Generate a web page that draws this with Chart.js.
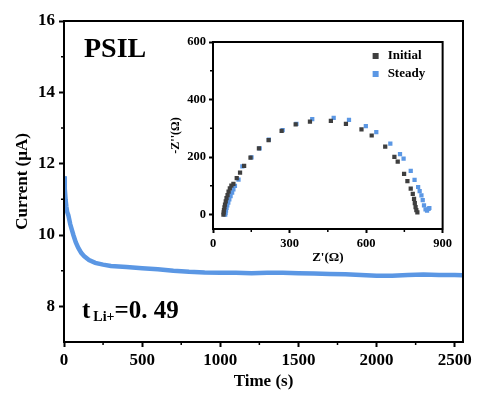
<!DOCTYPE html>
<html>
<head>
<meta charset="utf-8">
<script src="https://cdn.jsdelivr.net/npm/chart.js@4/dist/chart.umd.min.js"></script>
<style>
  html, body { margin: 0; padding: 0; background: #fff; }
  #wrap { position: relative; width: 478px; height: 394px; overflow: hidden; }
  #main { position: absolute; left: 0; top: 0; }
  #inset { position: absolute; left: 160px; top: 30px; }
  .note { position: absolute; font-family: "Liberation Serif", "Times New Roman", serif; font-weight: bold; color: #000; white-space: nowrap; line-height: 1; }
  #tag { left: 84px; top: 34px; font-size: 28px; }
  #tli { left: 82px; top: 297px; font-size: 25px; }
  #tli sub { font-size: 14px; vertical-align: -3px; margin-left: 3px; }
</style>
</head>
<body>
<div id="wrap">
  <canvas id="main" width="478" height="394"></canvas>
  <canvas id="inset" width="295" height="235"></canvas>
  <div class="note" id="tag">PSIL</div>
  <div class="note" id="tli">t<sub>Li+</sub>=0. 49</div>
</div>
<script>
// Chronoamperometry: time (s) and current (µA)
const timeS = [0, 5, 10, 15, 20, 28, 40, 50, 60, 75, 90, 110, 130, 160, 200, 250, 300, 400, 500,
  600, 700, 800, 900, 1000, 1100, 1200, 1300, 1400, 1500, 1600, 1700, 1800, 1900, 2000,
  2100, 2200, 2300, 2400, 2500, 2550];
const currentUA = [11.65, 11.3, 11.0, 10.8, 10.65, 10.55, 10.3, 10.15, 10.0, 9.8, 9.65, 9.5, 9.4, 9.3, 9.22, 9.17, 9.13, 9.1, 9.07,
  9.04, 9.0, 8.97, 8.95, 8.94, 8.94, 8.93, 8.94, 8.94, 8.93, 8.92, 8.91, 8.9, 8.88, 8.86,
  8.86, 8.88, 8.89, 8.88, 8.88, 8.87];

// Impedance spectra: Z' and -Z'' (Ω)
const initialZre = [41, 42, 43, 45, 47, 50, 53, 57, 61, 66, 72, 80, 93, 106, 122, 147, 180, 218, 269, 324, 380, 462, 521,
  582, 622, 675, 711, 724, 749, 762, 775, 783, 788, 791, 794, 797, 801];
const initialZim = [0, 8, 16, 25, 35, 46, 57, 68, 80, 91, 101, 107, 127, 146, 169, 198, 230, 259, 291, 314, 323, 326, 315,
  296, 275, 236, 201, 184, 142, 116, 90, 72, 55, 40, 26, 16, 8];
const steadyZre = [48, 49, 51, 53, 56, 60, 64, 69, 75, 80, 86, 100, 115, 151, 183, 219, 273, 327, 389, 473, 533,
  599, 640, 695, 733, 747, 775, 790, 804, 810, 817, 822, 827, 833, 839, 845, 848];
const steadyZim = [0, 6, 14, 23, 32, 42, 53, 64, 76, 88, 100, 122, 168, 199, 230, 261, 294, 315, 332, 336, 329,
  308, 287, 247, 210, 195, 152, 121, 96, 82, 67, 50, 32, 18, 14, 20, 23];

const mainTicksX = [0, 500, 1000, 1500, 2000, 2500];
const mainTicksY = [8, 10, 12, 14, 16];
const insetTicksX = [0, 300, 600, 900];
const insetTicksY = [0, 200, 400, 600];

const BLUE = '#5b97e4';
const GRAY = '#3f3f3f';
const SERIF = '"Liberation Serif", "Times New Roman", serif';

// Frame plus short minor ticks halfway between the labelled ticks
function framePlugin(minorX, minorY, minorLen) {
  return {
    id: 'frame',
    afterDraw(chart) {
      const { ctx, chartArea: a, scales } = chart;
      ctx.save();
      ctx.strokeStyle = '#000';
      ctx.lineWidth = 2;
      ctx.strokeRect(a.left, a.top, a.right - a.left, a.bottom - a.top);
      ctx.lineWidth = 1.5;
      ctx.beginPath();
      minorX.forEach(v => {
        const x = scales.x.getPixelForValue(v);
        ctx.moveTo(x, a.bottom); ctx.lineTo(x, a.bottom + minorLen);
      });
      minorY.forEach(v => {
        const y = scales.y.getPixelForValue(v);
        ctx.moveTo(a.left, y); ctx.lineTo(a.left - minorLen, y);
      });
      ctx.stroke();
      ctx.restore();
    }
  };
}

function fixedTicks(values) {
  return function (scale) { scale.ticks = values.map(v => ({ value: v })); };
}
const plain = v => String(v);
const tickGrid = len => ({ display: true, drawOnChartArea: false, drawTicks: true, tickLength: len, tickColor: '#000', tickWidth: 2 });

new Chart(document.getElementById('main'), {
  type: 'line',
  data: {
    datasets: [{
      data: timeS.map((t, i) => ({ x: t, y: currentUA[i] })),
      borderColor: BLUE,
      borderWidth: 4.5,
      pointRadius: 0,
      tension: 0,
      fill: false
    }]
  },
  options: {
    responsive: false,
    animation: false,
    layout: { padding: { left: 0, top: 21, right: 15, bottom: 2 } },
    plugins: { legend: { display: false }, tooltip: { enabled: false } },
    scales: {
      x: {
        type: 'linear', min: 0, max: 2553,
        afterBuildTicks: fixedTicks(mainTicksX),
        afterFit(s) { s.height = 50; },
        grid: tickGrid(5),
        border: { display: true, color: '#000', width: 2 },
        ticks: { color: '#000', padding: 3, maxRotation: 0, callback: plain, font: { family: SERIF, size: 17, weight: 'bold' } },
        title: { display: true, text: 'Time (s)', color: '#000', padding: { top: 0, bottom: 0 }, font: { family: SERIF, size: 17, weight: 'bold' } }
      },
      y: {
        type: 'linear', min: 7, max: 16,
        afterBuildTicks: fixedTicks(mainTicksY),
        afterFit(s) { s.width = 64; },
        grid: tickGrid(5),
        border: { display: true, color: '#000', width: 2 },
        ticks: { color: '#000', padding: 4, callback: plain, font: { family: SERIF, size: 17, weight: 'bold' } },
        title: { display: true, text: 'Current (μA)', color: '#000', padding: { top: 12, bottom: 0 }, font: { family: SERIF, size: 17, weight: 'bold' } }
      }
    }
  },
  plugins: [framePlugin([250, 750, 1250, 1750, 2250], [9, 11, 13, 15], 3)]
});

new Chart(document.getElementById('inset'), {
  type: 'scatter',
  data: {
    datasets: [
      {
        label: 'Initial',
        data: initialZre.map((x, i) => ({ x: x, y: initialZim[i] })),
        backgroundColor: GRAY, borderColor: GRAY, borderWidth: 0,
        pointStyle: 'rect', pointRadius: 3
      },
      {
        label: 'Steady',
        data: steadyZre.map((x, i) => ({ x: x, y: steadyZim[i] })),
        backgroundColor: BLUE, borderColor: BLUE, borderWidth: 0,
        pointStyle: 'rect', pointRadius: 3
      }
    ]
  },
  options: {
    responsive: false,
    animation: false,
    layout: { padding: { left: 0, top: 12, right: 9, bottom: 0 } },
    plugins: {
      tooltip: { enabled: false },
      legend: { display: false }
    },
    scales: {
      x: {
        type: 'linear', min: 0, max: 900,
        afterBuildTicks: fixedTicks(insetTicksX),
        afterFit(s) { s.height = 36; },
        grid: tickGrid(4),
        border: { display: true, color: '#000', width: 2 },
        ticks: { color: '#000', padding: 3, maxRotation: 0, callback: plain, font: { family: SERIF, size: 12.5, weight: 'bold' } },
        title: { display: true, text: "Z'(Ω)", color: '#000', padding: { top: -3, bottom: 0 }, font: { family: SERIF, size: 13, weight: 'bold' } }
      },
      y: {
        type: 'linear', min: -50, max: 600,
        afterBuildTicks: fixedTicks(insetTicksY),
        afterFit(s) { s.width = 53; },
        grid: tickGrid(4),
        border: { display: true, color: '#000', width: 2 },
        ticks: { color: '#000', padding: 3, callback: plain, font: { family: SERIF, size: 12.5, weight: 'bold' } },
        title: { display: true, text: "-Z''(Ω)", color: '#000', padding: { top: 9, bottom: 0 }, font: { family: SERIF, size: 12, weight: 'bold' } }
      }
    }
  },
  plugins: [
    framePlugin([150, 450, 750], [100, 300, 500], 3),
    {
      id: 'insetLegend',
      afterDraw(chart) {
        const { ctx, chartArea: a } = chart;
        const rows = chart.data.datasets;
        ctx.save();
        ctx.font = 'bold 13px ' + SERIF;
        ctx.textBaseline = 'middle';
        rows.forEach((ds, i) => {
          const y = a.top + 14 + i * 18;
          ctx.fillStyle = ds.backgroundColor;
          ctx.fillRect(a.right - 70, y - 3, 6, 6);
          ctx.fillStyle = '#000';
          ctx.fillText(ds.label, a.right - 55, y);
        });
        ctx.restore();
      }
    }
  ]
});
</script>
</body>
</html>
